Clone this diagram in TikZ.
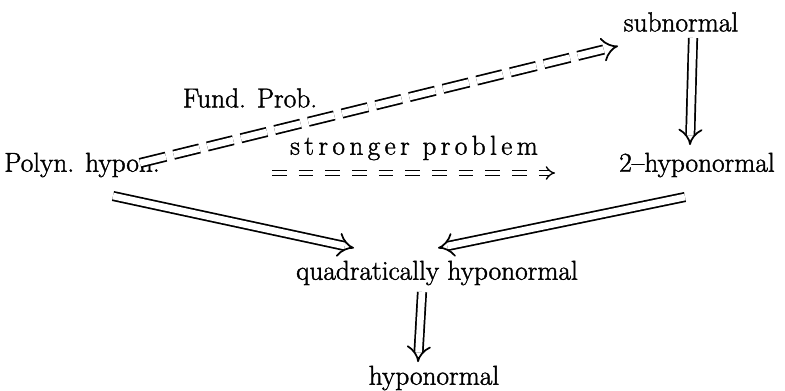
\documentclass[tikz,border=0pt]{standalone}
\usepackage{fontspec}
\setmainfont{Latin Modern Roman}[FakeBold=1.5]
\newfontfamily\spcfont{Latin Modern Roman}[LetterSpace=16,FakeBold=1.5]
\usetikzlibrary{arrows.meta,calc}
\begin{document}
\begin{tikzpicture}[x=0.75pt,y=-0.75pt,
  lbl/.style={inner sep=0pt,font=\fontsize{20.5}{24}\selectfont},
  impl/.style={double,double distance=5pt,line width=1.3pt,-{Implies[length=8pt]}},
  dimpl/.style={impl,dash pattern=on 20pt off 6pt}]
\useasboundingbox (0,0) rectangle (785,390);
\node[lbl] (sub) at (681,22) {subnormal};
\node[lbl] (fund) at (250,98) {Fund. Prob.};
\node[lbl] (poly) at (82,165) {Polyn. hypon.};
\node[lbl] (strong) at (414,148) {\spcfont stronger problem};
\node[lbl] (two) at (697,165) {2--hyponormal};
\node[lbl] (quad) at (437,273) {quadratically hyponormal};
\node[lbl] (hypo) at (434,378) {hyponormal};
\coordinate (s1) at (272,173);
\coordinate (s2) at (555,173);
\draw[dimpl] ($(poly)+(58,-2)$) -- ($(sub)+(-63,24)$);
\draw[double,double distance=2.5pt,line width=1pt,dash pattern=on 11pt off 9pt,-{Implies[length=6pt]}] (s1) -- (s2);
\draw[impl] ($(sub)+(12,16)$) -- ($(two)+(-7,-20)$);
\draw[impl] ($(poly)+(31,31)$) -- ($(quad)+(-83,-25)$);
\draw[impl] ($(two)+(-12,32)$) -- ($(quad)+(1,-25)$);
\draw[impl] ($(quad)+(-15,19)$) -- ($(hypo)+(-16,-16)$);
\end{tikzpicture}
\end{document}
